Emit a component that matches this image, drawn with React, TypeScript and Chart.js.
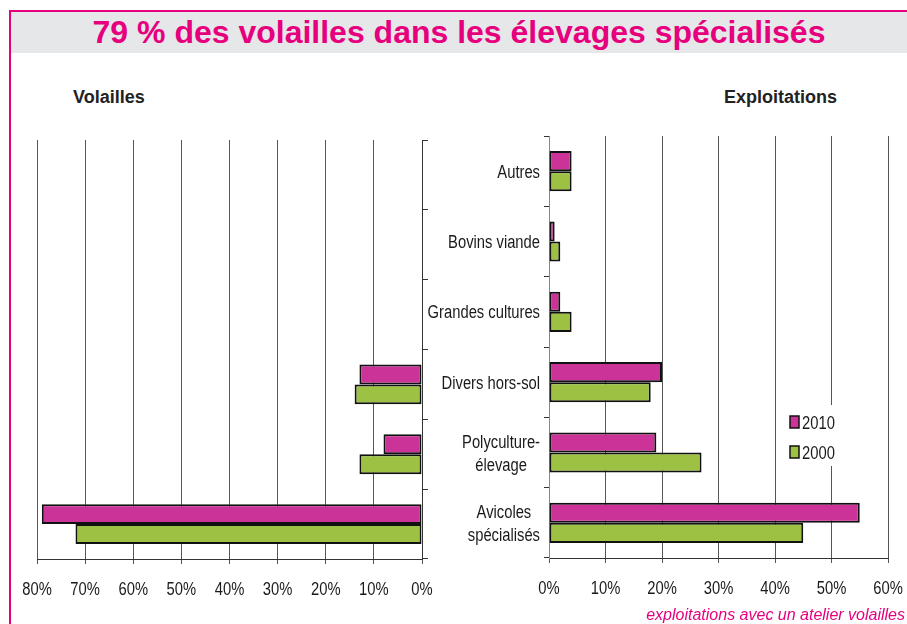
import React, { useEffect, useRef } from 'react';
import { Chart, registerables } from 'chart.js';

Chart.register(...registerables);

const categories: string[][] = [
  ['Autres'],
  ['Bovins viande'],
  ['Grandes cultures'],
  ['Divers hors-sol'],
  ['Polyculture-', 'élevage'],
  ['Avicoles', 'spécialisés'],
];
const seriesNames = ['2010', '2000'];
const volailles2010 = [0, 0, 0, 13, 8, 79];
const volailles2000 = [0, 0, 0, 14, 13, 72];
const exploitations2010 = [4, 1, 2, 20, 19, 55];
const exploitations2000 = [4, 2, 4, 18, 27, 45];
const volaillesMax = 80;
const exploitationsMax = 60;
const tickStep = 10;

const PINK = '#CC3399';
const GREEN = '#9DC243';
const TITLE_PINK = '#E6007E';
const SANS = '"Liberation Sans", Arial, Helvetica, sans-serif';
const NARROW_SCALE = 0.82;
const FONT_SIZE = 18;
const CAP = 13;

function narrowText(ctx: any, text: string, x: number, y: number, align: 'left' | 'center' | 'right') {
  ctx.save();
  ctx.font = `${FONT_SIZE}px ${SANS}`;
  ctx.textBaseline = 'alphabetic';
  ctx.textAlign = align;
  ctx.translate(x, y);
  ctx.scale(NARROW_SCALE, 1);
  ctx.fillText(text, 0, 0);
  ctx.restore();
}
function narrowWidth(ctx: any, text: string) {
  ctx.save();
  ctx.font = `${FONT_SIZE}px ${SANS}`;
  const w = ctx.measureText(text).width * NARROW_SCALE;
  ctx.restore();
  return w;
}

function makeDatasets(a: number[], b: number[]) {
  return [
    { label: seriesNames[0], data: a, backgroundColor: PINK, borderColor: '#111', borderWidth: 2, borderSkipped: false },
    { label: seriesNames[1], data: b, backgroundColor: GREEN, borderColor: '#111', borderWidth: 2, borderSkipped: false },
  ];
}

const xTickLabelPlugin = {
  id: 'xTickLabels',
  afterDraw(chart: any) {
    const ctx = chart.ctx;
    const x = chart.scales.x;
    ctx.save();
    ctx.fillStyle = '#1a1a1a';
    x.ticks.forEach((t: any) => {
      narrowText(ctx, t.value + '%', x.getPixelForValue(t.value), x.top + 36, 'center');
    });
    ctx.restore();
  },
};

const categoryLabelPlugin = {
  id: 'catLabels',
  afterDraw(chart: any) {
    const ctx = chart.ctx;
    const y = chart.scales.y;
    const right = chart.chartArea.left - 9;
    ctx.save();
    ctx.fillStyle = '#1a1a1a';
    (chart.data.labels as any[]).forEach((lab, i) => {
      const lines: string[] = Array.isArray(lab) ? lab : [lab];
      const w = Math.max(...lines.map((l) => narrowWidth(ctx, l)));
      const cx = right - w / 2;
      const cy = y.getPixelForValue(i);
      const lh = 23;
      lines.forEach((l, j) => narrowText(ctx, l, cx, cy + (j - (lines.length - 1) / 2) * lh + CAP / 2, 'center'));
    });
    ctx.restore();
  },
};

const legendPlugin = {
  id: 'boxLegend',
  afterDraw(chart: any) {
    const ctx = chart.ctx;
    const r = chart.chartArea.right;
    ctx.save();
    ctx.fillStyle = '#fff';
    ctx.fillRect(r - 110, 405, 109, 61);
    chart.data.datasets.forEach((ds: any, i: number) => {
      const cy = 422 + i * 30;
      ctx.fillStyle = ds.backgroundColor;
      ctx.fillRect(r - 98, cy - 6, 9, 12);
      ctx.strokeStyle = '#111';
      ctx.lineWidth = 1.5;
      ctx.strokeRect(r - 98, cy - 6, 9, 12);
      ctx.fillStyle = '#1a1a1a';
      narrowText(ctx, ds.label, r - 86, cy + CAP / 2, 'left');
    });
    ctx.restore();
  },
};

function xScale(max: number, reverse: boolean) {
  return {
    reverse,
    min: 0,
    max,
    ticks: { stepSize: tickStep, display: false },
    grid: { color: '#555', lineWidth: 1, tickLength: 5 },
    border: { color: '#333', width: 1 },
    afterFit: (s: any) => { s.height = 40; },
  };
}

export default function App() {
  const leftRef = useRef<HTMLCanvasElement>(null);
  const rightRef = useRef<HTMLCanvasElement>(null);

  useEffect(() => {
    const left = new Chart(leftRef.current as HTMLCanvasElement, {
      type: 'bar',
      data: { labels: categories, datasets: makeDatasets(volailles2010, volailles2000) as any },
      options: {
        indexAxis: 'y',
        responsive: false,
        animation: false,
        layout: { padding: { left: 37, right: 10, top: 140, bottom: 25 } },
        datasets: { bar: { barPercentage: 1, categoryPercentage: 0.57 } } as any,
        plugins: { legend: { display: false }, tooltip: { enabled: false } },
        scales: {
          x: xScale(volaillesMax, true),
          y: {
            position: 'right',
            ticks: { display: false },
            grid: { offset: true, drawOnChartArea: false, tickLength: 6, color: '#333' },
            border: { color: '#333', width: 1 },
            afterFit: (s: any) => { s.width = 8; },
          },
        },
      } as any,
      plugins: [xTickLabelPlugin],
    });

    const right = new Chart(rightRef.current as HTMLCanvasElement, {
      type: 'bar',
      data: { labels: categories, datasets: makeDatasets(exploitations2010, exploitations2000) as any },
      options: {
        indexAxis: 'y',
        responsive: false,
        animation: false,
        layout: { padding: { left: 0, right: 19, top: 136, bottom: 26 } },
        datasets: { bar: { barPercentage: 1, categoryPercentage: 0.57 } } as any,
        plugins: { legend: { display: false }, tooltip: { enabled: false } },
        scales: {
          x: xScale(exploitationsMax, false),
          y: {
            position: 'left',
            ticks: { display: false },
            grid: { offset: true, drawOnChartArea: false, tickLength: 5, color: '#333' },
            border: { color: '#888', width: 1 },
            afterFit: (s: any) => { s.width = 149; },
          },
        },
      } as any,
      plugins: [xTickLabelPlugin, categoryLabelPlugin, legendPlugin],
    });

    return () => {
      left.destroy();
      right.destroy();
    };
  }, []);

  return (
    <div style={{ position: 'absolute', left: 0, top: 0, width: 907, height: 624, background: '#fff', overflow: 'hidden' }}>
      <div style={{ position: 'absolute', left: 9, top: 10, width: 898, height: 2, background: TITLE_PINK }} />
      <div style={{ position: 'absolute', left: 9, top: 10, width: 2, height: 614, background: TITLE_PINK }} />
      <div
        style={{
          position: 'absolute', left: 11, top: 12, width: 896, height: 41, background: '#E6E7E8',
          color: TITLE_PINK, fontFamily: SANS, fontWeight: 'bold', fontSize: 32, lineHeight: '40px', textAlign: 'center',
        }}
      >
        79 % des volailles dans les élevages spécialisés
      </div>
      <div style={{ position: 'absolute', left: 73, top: 86, fontFamily: SANS, fontWeight: 'bold', fontSize: 18, color: '#222', lineHeight: '22px' }}>
        Volailles
      </div>
      <div style={{ position: 'absolute', left: 724, top: 86, fontFamily: SANS, fontWeight: 'bold', fontSize: 18, color: '#222', lineHeight: '22px' }}>
        Exploitations
      </div>
      <canvas ref={leftRef} width={440} height={624} style={{ position: 'absolute', left: 0, top: 0, width: 440, height: 624 }} />
      <canvas ref={rightRef} width={507} height={624} style={{ position: 'absolute', left: 400, top: 0, width: 507, height: 624 }} />
      <div style={{ position: 'absolute', right: 2, top: 605, fontFamily: SANS, fontStyle: 'italic', fontSize: 16, color: TITLE_PINK, lineHeight: '20px', whiteSpace: 'nowrap' }}>
        exploitations avec un atelier volailles
      </div>
    </div>
  );
}
